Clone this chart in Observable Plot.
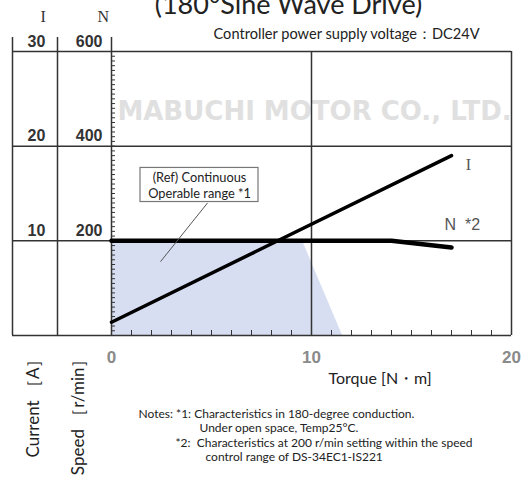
<!DOCTYPE html>
<html><head><meta charset="utf-8">
<script src="https://cdn.jsdelivr.net/npm/d3@7"></script>
<script src="https://cdn.jsdelivr.net/npm/@observablehq/plot@0.6"></script>
<style>
html,body{margin:0;padding:0;background:#fff;overflow:hidden;}
</style></head><body><div id="chart"></div>
<script>
// ---- data ----
const torqueI = [0, 17];            // N·m
const currentI = [1.4, 19.0];       // A
const torqueN = [0, 14, 17];        // N·m
const speedN = [200, 200, 186];     // r/min
const rangeTorque = [0, 9.55, 11.55];   // continuous operable range boundary
const rangeSpeed = [200, 200, 0];
const speedTicks = [200, 400, 600];
const currentTicks = [10, 20, 30];
const torqueTicks = [0, 10, 20];
const gridSpeed = [0, 200, 400, 600];
const gridTorque = [10, 20];
const minorSpeed = d3.range(10, 600, 10);
const minorTorque = d3.range(1, 20, 1);
const speedPerAmp = 600 / 30;       // I axis 0–30 A shares the N axis 0–600 r/min
const calloutBox = [{x1: 1.45, x2: 7.35, y1: 282, y2: 354}];
const calloutText = [{x: 4.4, y: 318, text: "(Ref) Continuous\nOperable range *1"}];
const calloutLeader = [{x1: 4.8, y1: 280, x2: 2.45, y2: 156}];

const FONT = "Lato, 'Open Sans', sans-serif";
const I = torqueI.map((t, i) => ({torque: t, current: currentI[i]}));
const N = torqueN.map((t, i) => ({torque: t, speed: speedN[i]}));
const R = rangeTorque.map((t, i) => ({torque: t, speed: rangeSpeed[i]}));
const GRID = {stroke: "#333", strokeWidth: 1.5};

const plot = Plot.plot({
  width: 524, height: 478,
  marginLeft: 111, marginRight: 13, marginTop: 51, marginBottom: 143,
  style: {fontFamily: FONT, background: "white"},
  x: {domain: [0, 20]},
  y: {domain: [0, 600]},
  marks: [
    Plot.areaY(R, {x: "torque", y: "speed", fill: "#d7def2"}),
    Plot.text(["MABUCHI MOTOR CO., LTD."], {text: d => d, frameAnchor: "top", dx: 3, dy: 68, lineAnchor: "bottom",
      fontFamily: "DejaVu Sans", fontWeight: "bold", fontSize: 26, fill: "#e0e0e0"}),
    // grid / table lines
    Plot.ruleY(gridSpeed, {insetLeft: -99, ...GRID}),
    Plot.ruleX(gridTorque, GRID),
    Plot.ruleX([0], {insetTop: -14, ...GRID}),
    Plot.ruleX([0], {dx: -99, insetTop: -14, ...GRID}),
    Plot.ruleX([0], {dx: -54, insetTop: -14, ...GRID}),
    // minor ticks
    Plot.ruleY(minorSpeed, {x1: 0, x2: 0, insetRight: -4, stroke: "#333", strokeWidth: 1}),
    Plot.ruleX(minorTorque, {y1: 0, y2: 0, insetTop: -5, stroke: "#333", strokeWidth: 1}),
    // axes labels
    Plot.axisY(speedTicks, {anchor: "left", tickSize: 0, tickPadding: 9, dy: -10, label: null,
      fontSize: 16, fontWeight: "bold", fill: "#333", fontFamily: "Liberation Sans"}),
    Plot.axisY(currentTicks.map(c => c * speedPerAmp), {anchor: "left", tickSize: 0, tickPadding: 75, textAnchor: "middle",
      tickFormat: d => d / speedPerAmp, dy: -10, label: null,
      fontSize: 16, fontWeight: "bold", fill: "#333", fontFamily: "Liberation Sans"}),
    Plot.axisX(torqueTicks, {anchor: "bottom", tickSize: 0, tickPadding: 15, label: null,
      fontSize: 17, fontWeight: "bold", fill: "#8a8a8a", fontFamily: "Liberation Sans"}),
    // series
    Plot.line(N, {x: "torque", y: "speed", stroke: "black", strokeWidth: 4.5}),
    Plot.line(I, {x: "torque", y: d => d.current * speedPerAmp, stroke: "black", strokeWidth: 3.5}),
    Plot.text([I[I.length - 1]], {x: "torque", y: d => d.current * speedPerAmp, text: () => "I", dx: 17, dy: 14,
      lineAnchor: "bottom", textAnchor: "middle", fontFamily: "Liberation Serif", fontSize: 16, fill: "#555"}),
    Plot.text([N[N.length - 1]], {x: "torque", y: "speed", text: () => "N  *2", dx: -7, dy: -17,
      lineAnchor: "bottom", textAnchor: "start", fontFamily: "Liberation Sans", fontSize: 16, fill: "#555"}),
    // callout
    Plot.link(calloutLeader, {x1: "x1", y1: "y1", x2: "x2", y2: "y2", stroke: "#555", strokeWidth: 1}),
    Plot.rect(calloutBox, {x1: "x1", x2: "x2", y1: "y1", y2: "y2", fill: "white", stroke: "#777", strokeWidth: 1.2}),
    Plot.text(calloutText, {x: "x", y: "y", text: "text", fontSize: 12.8, lineHeight: 1.2, fill: "#222"}),
    // header texts
    Plot.text(["(180°Sine Wave Drive)"], {text: d => d, frameAnchor: "top", dx: -23, dy: -38, lineAnchor: "bottom",
      fontSize: 27, fill: "#222"}),
    Plot.text(["I"], {text: d => d, frameAnchor: "top-left", dx: -71, dy: -30, lineAnchor: "bottom",
      fontFamily: "Liberation Serif", fontSize: 16, fill: "#333"}),
    Plot.text(["N"], {text: d => d, frameAnchor: "top-left", dx: -14, dy: -30, lineAnchor: "bottom",
      fontFamily: "Liberation Serif", fontSize: 16, fill: "#333"}),
    Plot.text(["Controller power supply voltage：DC24V"], {text: d => d, frameAnchor: "top-left", dx: 102, dy: -13,
      lineAnchor: "bottom", textAnchor: "start", fontSize: 14.6, fill: "#222"}),
    // bottom texts
    Plot.text(["Torque [N・m]"], {text: d => d, frameAnchor: "bottom", dx: 17, dy: 48, lineAnchor: "bottom",
      textAnchor: "start", fontSize: 16, fill: "#222"}),
    Plot.text(["Current ［A］"], {text: d => d, frameAnchor: "bottom-left", dx: -73, dy: 15, rotate: -90,
      textAnchor: "end", fontSize: 17, fill: "#222"}),
    Plot.text(["Speed ［r/min］"], {text: d => d, frameAnchor: "bottom-left", dx: -28, dy: 15, rotate: -90,
      textAnchor: "end", fontSize: 17, fill: "#222"}),
    Plot.text(["Notes: *1: Characteristics in 180-degree conduction."], {text: d => d, frameAnchor: "bottom-left",
      dx: 27, dy: 82, lineAnchor: "bottom", textAnchor: "start", fontSize: 12, fill: "#222"}),
    Plot.text(["Under open space, Temp25°C."], {text: d => d, frameAnchor: "bottom-left",
      dx: 88, dy: 96, lineAnchor: "bottom", textAnchor: "start", fontSize: 12, fill: "#222"}),
    Plot.text(["*2:  Characteristics at 200 r/min setting within the speed"], {text: d => d, frameAnchor: "bottom-left",
      dx: 64, dy: 111, lineAnchor: "bottom", textAnchor: "start", fontSize: 12, fill: "#222"}),
    Plot.text(["control range of DS-34EC1-IS221"], {text: d => d, frameAnchor: "bottom-left",
      dx: 94, dy: 125, lineAnchor: "bottom", textAnchor: "start", fontSize: 12, fill: "#222"})
  ]
});
document.getElementById("chart").appendChild(plot);
</script></body></html>
